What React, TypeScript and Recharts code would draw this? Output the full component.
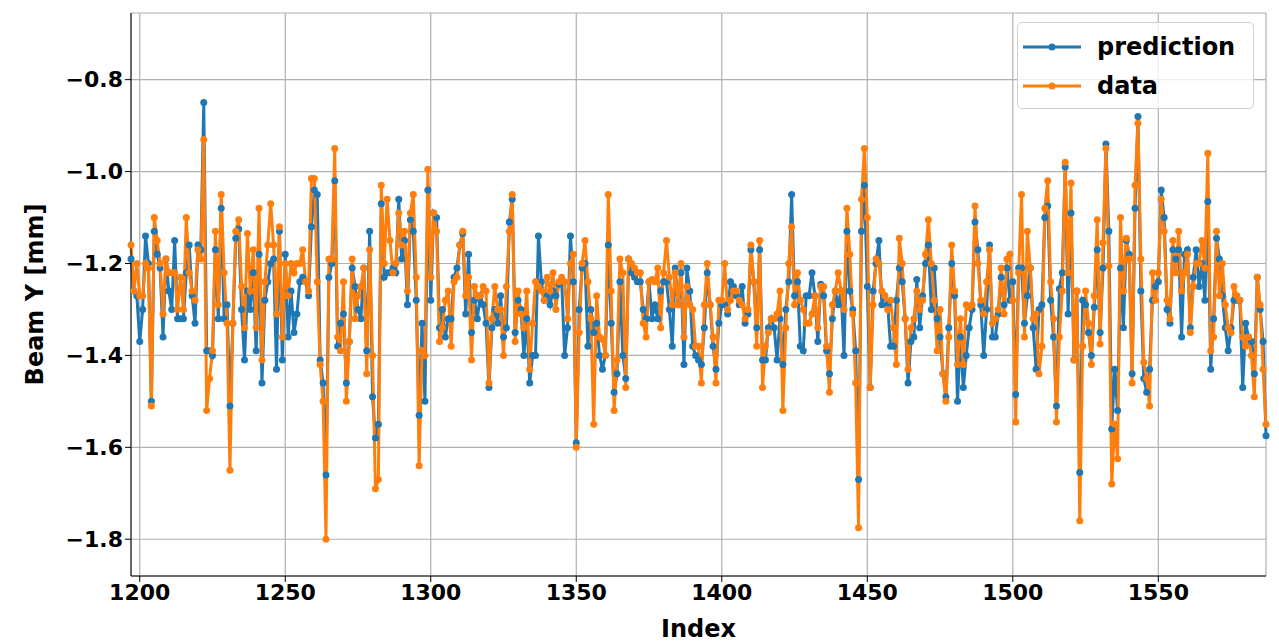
import { LineChart, Line, XAxis, YAxis, CartesianGrid, Legend, ReferenceArea } from "recharts"

// index of the first sample on the x axis
const startIndex = 1197

const xTicks = [1200, 1250, 1300, 1350, 1400, 1450, 1500, 1550]
const yTicks = [-1.8, -1.6, -1.4, -1.2, -1.0, -0.8]

// measured beam position (orange)
const dataValues = [
  -1.16, -1.26, -1.2, -1.27, -1.27, -1.2, -1.21, -1.51, -1.1, -1.15,
  -1.2, -1.31, -1.19, -1.22, -1.22, -1.22, -1.3, -1.23, -1.3, -1.1,
  -1.22, -1.26, -1.28, -1.17, -1.19, -0.93, -1.52, -1.45, -1.39, -1.13,
  -1.29, -1.05, -1.22, -1.33, -1.65,
  -1.33, -1.13, -1.105, -1.25, -1.34, -1.135, -1.26, -1.17, -1.34, -1.08,
  -1.41, -1.24, -1.16, -1.07, -1.16, -1.31, -1.12, -1.36, -1.2, -1.27,
  -1.2, -1.22, -1.2, -1.2, -1.17, -1.24, -1.26, -1.015, -1.015, -1.24,
  -1.42, -1.5, -1.8, -1.19, -1.19, -0.95,
  -1.36, -1.39, -1.24, -1.5, -1.37, -1.19, -1.32, -1.27, -1.25, -1.21,
  -1.44, -1.17, -1.4, -1.69, -1.67, -1.03, -1.2, -1.06, -1.15, -1.22,
  -1.2, -1.09, -1.16, -1.13, -1.26, -1.09, -1.05, -1.23, -1.64, -1.39,
  -1.4, -0.995, -1.23, -1.09, -1.13,
  -1.37, -1.34, -1.28, -1.26, -1.38, -1.24, -1.23, -1.16, -1.13, -1.27,
  -1.23, -1.41, -1.25, -1.27, -1.27, -1.25, -1.26, -1.46, -1.32, -1.25,
  -1.3, -1.3, -1.4, -1.25, -1.13, -1.05, -1.37, -1.26, -1.31, -1.34,
  -1.26, -1.43, -1.33, -1.24, -1.25,
  -1.26, -1.28, -1.23, -1.26, -1.22, -1.3, -1.24, -1.23, -1.24, -1.32,
  -1.2, -1.18, -1.6, -1.35, -1.2, -1.15, -1.24, -1.32, -1.55, -1.27,
  -1.36, -1.365, -1.4, -1.05, -1.26, -1.52, -1.41, -1.19, -1.22, -1.47,
  -1.19, -1.2, -1.21, -1.22, -1.22,
  -1.33, -1.36, -1.24, -1.235, -1.24, -1.21, -1.34, -1.22, -1.15, -1.23,
  -1.29, -1.22, -1.29, -1.2, -1.36, -1.25, -1.29, -1.3, -1.38, -1.38,
  -1.46, -1.29, -1.2, -1.29, -1.36, -1.46, -1.28, -1.28, -1.2, -1.3,
  -1.28, -1.26, -1.26, -1.28, -1.29, -1.32,
  -1.3, -1.16, -1.24, -1.38, -1.15, -1.47, -1.38, -1.35, -1.32, -1.32,
  -1.31, -1.26, -1.52, -1.34, -1.2, -1.12, -1.29, -1.22, -1.28, -1.3,
  -1.33, -1.33, -1.31, -1.27, -1.34, -1.25, -1.25, -1.38, -1.48, -1.29,
  -1.26, -1.22, -1.26, -1.3, -1.08,
  -1.18, -1.31, -1.46, -1.775, -1.06, -0.95, -1.1, -1.47, -1.29, -1.19,
  -1.2, -1.26, -1.27, -1.3, -1.28, -1.34, -1.42, -1.145, -1.2, -1.32,
  -1.43, -1.34, -1.32, -1.26, -1.3, -1.28, -1.18, -1.105, -1.2, -1.28,
  -1.39, -1.3, -1.44,
  -1.5, -1.36, -1.16, -1.26, -1.42, -1.32, -1.42, -1.29, -1.295, -1.29,
  -1.075, -1.2, -1.28, -1.31, -1.24, -1.17, -1.33, -1.32, -1.3, -1.21,
  -1.31, -1.19, -1.18, -1.28, -1.545, -1.22, -1.05, -1.36, -1.13, -1.21,
  -1.32, -1.31, -1.44, -1.38, -1.08,
  -1.02, -1.24, -1.32, -1.545, -1.36, -1.26, -0.98, -1.22, -1.025, -1.41,
  -1.26, -1.76, -1.38, -1.26, -1.33, -1.42, -1.27, -1.105, -1.375, -1.155,
  -0.95, -1.205, -1.68, -1.55, -1.625, -1.1, -1.26, -1.145, -1.19, -1.46,
  -1.03, -0.895, -1.19, -1.415, -1.45, -1.51, -1.22,
  -1.28, -1.22, -1.06, -1.13, -1.28, -1.32, -1.15, -1.22, -1.13, -1.26,
  -1.22, -1.18, -1.35, -1.25, -1.2, -1.2, -1.15, -1.21, -0.96, -1.39,
  -1.36, -1.13, -1.27, -1.2, -1.29, -1.34, -1.35, -1.25, -1.27, -1.28,
  -1.36, -1.38, -1.36, -1.4, -1.49, -1.23, -1.29, -1.43, -1.55,
]

// model prediction (blue)
const predictionValues = [
  -1.19, -1.26, -1.27, -1.37, -1.3, -1.14, -1.2, -1.5, -1.13, -1.18,
  -1.21, -1.36, -1.19, -1.26, -1.3, -1.15, -1.32, -1.32, -1.32, -1.22,
  -1.16, -1.27, -1.33, -1.16, -1.17, -0.85, -1.39, -1.39, -1.4, -1.17,
  -1.32, -1.08, -1.32, -1.29, -1.51,
  -1.33, -1.145, -1.125, -1.3, -1.41, -1.26, -1.3, -1.22, -1.39, -1.18,
  -1.46, -1.28, -1.24, -1.2, -1.19, -1.43, -1.13, -1.41, -1.18, -1.36,
  -1.26, -1.35, -1.31, -1.24, -1.23, -1.24, -1.27, -1.12, -1.04, -1.05,
  -1.41, -1.46, -1.66, -1.23, -1.2, -1.02,
  -1.38, -1.33, -1.31, -1.46, -1.37, -1.21, -1.25, -1.3, -1.32, -1.21,
  -1.39, -1.13, -1.49, -1.58, -1.55, -1.07, -1.23, -1.22, -1.22, -1.21,
  -1.22, -1.06, -1.19, -1.15, -1.29, -1.105, -1.13, -1.28, -1.53, -1.33,
  -1.5, -1.04, -1.28, -1.09, -1.1,
  -1.34, -1.3, -1.36, -1.32, -1.32, -1.23, -1.21, -1.16, -1.135, -1.31,
  -1.18, -1.35, -1.28, -1.32, -1.27, -1.29, -1.33, -1.47, -1.34, -1.3,
  -1.33, -1.27, -1.36, -1.34, -1.11, -1.06, -1.35, -1.28, -1.3, -1.4,
  -1.32, -1.46, -1.4, -1.4, -1.14,
  -1.24, -1.28, -1.27, -1.29, -1.26, -1.27, -1.245, -1.24, -1.4, -1.34,
  -1.14, -1.24, -1.59, -1.3, -1.21, -1.2, -1.38, -1.3, -1.35, -1.33,
  -1.4, -1.43, -1.4, -1.16, -1.33, -1.48, -1.44, -1.24, -1.4, -1.45,
  -1.19, -1.22, -1.23, -1.24, -1.24,
  -1.3, -1.32, -1.24, -1.32, -1.29, -1.32, -1.26, -1.24, -1.24, -1.3,
  -1.38, -1.21, -1.29, -1.22, -1.42, -1.21, -1.26, -1.38, -1.4, -1.41,
  -1.42, -1.34, -1.22, -1.29, -1.38, -1.43, -1.33, -1.29, -1.29, -1.31,
  -1.24, -1.25, -1.27, -1.29, -1.25, -1.33,
  -1.31, -1.17, -1.24, -1.34, -1.17, -1.41, -1.41, -1.34, -1.32, -1.34,
  -1.41, -1.32, -1.42, -1.3, -1.24, -1.05, -1.27, -1.24, -1.38, -1.39,
  -1.27, -1.27, -1.22, -1.27, -1.37, -1.245, -1.27, -1.39, -1.44, -1.32,
  -1.26, -1.29, -1.26, -1.4, -1.13,
  -1.26, -1.3, -1.39, -1.67, -1.13, -1.03, -1.25, -1.47, -1.26, -1.2,
  -1.15, -1.29, -1.27, -1.29, -1.38, -1.38, -1.28, -1.21, -1.24, -1.32,
  -1.46, -1.37, -1.36, -1.235, -1.34, -1.27, -1.2, -1.16, -1.3, -1.21,
  -1.32, -1.36, -1.44,
  -1.49, -1.34, -1.2, -1.27, -1.5, -1.36, -1.47, -1.4, -1.34, -1.3,
  -1.11, -1.17, -1.29, -1.4, -1.3, -1.16, -1.36, -1.36, -1.31, -1.23,
  -1.29, -1.21, -1.28, -1.24, -1.485, -1.21, -1.21, -1.33, -1.27, -1.21,
  -1.34, -1.43, -1.3, -1.29, -1.1,
  -1.075, -1.28, -1.36, -1.51, -1.255, -1.22, -0.99, -1.31, -1.09, -1.41,
  -1.26, -1.655, -1.28, -1.29, -1.35, -1.4, -1.295, -1.17, -1.35, -1.21,
  -0.94, -1.13, -1.56, -1.43, -1.52, -1.21, -1.34, -1.15, -1.18, -1.44,
  -1.08, -0.88, -1.26, -1.45, -1.48, -1.43, -1.28,
  -1.25, -1.24, -1.04, -1.1, -1.3, -1.33, -1.17, -1.19, -1.17, -1.36,
  -1.18, -1.17, -1.34, -1.23, -1.17, -1.25, -1.2, -1.28, -1.065, -1.43,
  -1.32, -1.145, -1.19, -1.27, -1.34, -1.39, -1.34, -1.28, -1.28, -1.28,
  -1.47, -1.33, -1.36, -1.37, -1.44, -1.23, -1.3, -1.37, -1.575,
]

const BLUE = "#1f77b4"
const ORANGE = "#ff7f0e"
const FONT = "'DejaVu Sans', sans-serif"

const chartData = dataValues.map((v, i) => ({
  index: startIndex + i,
  prediction: predictionValues[i],
  data: v,
}))

const formatY = (v: number) => (v < 0 ? "\u2212" : "") + Math.abs(v).toFixed(1)

const legendItems = [
  { name: "prediction", color: BLUE },
  { name: "data", color: ORANGE },
]

const LegendBox = () => (
  <div
    style={{
      width: 237,
      height: 87,
      boxSizing: "border-box",
      border: "1px solid #d0d0d0",
      borderRadius: 5,
      background: "rgba(255,255,255,0.8)",
      padding: "4px 0 0 5px",
      fontFamily: FONT,
      fontWeight: "bold",
      fontSize: 24,
      color: "#000",
    }}
  >
    {legendItems.map((item) => (
      <div key={item.name} style={{ display: "flex", alignItems: "center", height: 39 }}>
        <svg width={60} height={12} style={{ marginRight: 14 }}>
          <line x1={0} y1={6} x2={58} y2={6} stroke={item.color} strokeWidth={3} />
          <circle cx={29} cy={6} r={3.5} fill={item.color} />
        </svg>
        <span>{item.name}</span>
      </div>
    ))}
  </div>
)

export default function App() {
  return (
    <div style={{ position: "absolute", left: 0, top: 0, background: "#fff" }}>
      <LineChart width={1279} height={642} data={chartData} margin={{ top: 13, right: 13, bottom: 0, left: 0 }}>
        <CartesianGrid stroke="#b0b0b0" strokeWidth={1.2} />
        <XAxis
          dataKey="index"
          type="number"
          domain={[startIndex, startIndex + dataValues.length - 1]}
          ticks={xTicks}
          height={66}
          tickSize={6}
          stroke="#000"
          tickLine={{ stroke: "#000" }}
          tick={{ fontFamily: FONT, fontWeight: "bold", fontSize: 22, fill: "#000" }}
          label={{
            value: "Index",
            position: "insideBottom",
            offset: 5,
            style: { fontFamily: FONT, fontWeight: "bold", fontSize: 24, fill: "#000" },
          }}
        />
        <YAxis
          type="number"
          domain={[-1.88, -0.655]}
          ticks={yTicks}
          width={131}
          tickSize={6}
          stroke="#000"
          tickFormatter={formatY}
          tick={{ fontFamily: FONT, fontWeight: "bold", fontSize: 22, fill: "#000" }}
          label={{
            value: "Beam Y [mm]",
            angle: -90,
            position: "insideLeft",
            offset: 34,
            style: { fontFamily: FONT, fontWeight: "bold", fontSize: 24, fill: "#000", textAnchor: "middle" },
          }}
        />
        <ReferenceArea fill="none" stroke="#000" strokeWidth={1.2} ifOverflow="visible" />
        <Line
          type="linear"
          dataKey="prediction"
          stroke={BLUE}
          strokeWidth={3}
          dot={{ r: 3.5, fill: BLUE, stroke: "none" }}
          activeDot={false}
          isAnimationActive={false}
        />
        <Line
          type="linear"
          dataKey="data"
          stroke={ORANGE}
          strokeWidth={3}
          dot={{ r: 3.5, fill: ORANGE, stroke: "none" }}
          activeDot={false}
          isAnimationActive={false}
        />
        <Legend
          layout="horizontal"
          verticalAlign="middle"
          align="center"
          content={() => <LegendBox />}
          wrapperStyle={{ top: 22, left: 1017, width: 237, height: 87 }}
        />
      </LineChart>
    </div>
  )
}
